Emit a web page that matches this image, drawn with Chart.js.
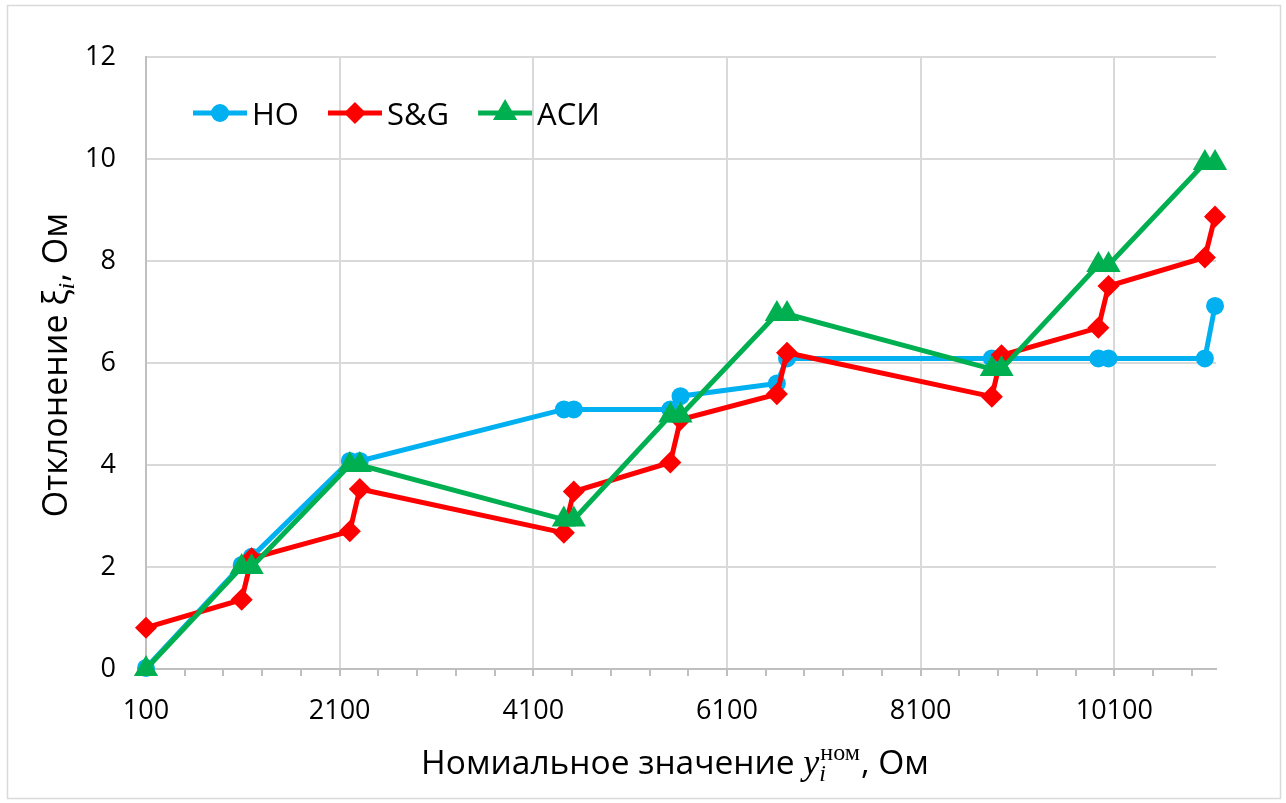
<!DOCTYPE html>
<html><head><meta charset="utf-8">
<script src="https://cdn.jsdelivr.net/npm/chart.js@4.4.0/dist/chart.umd.min.js"></script>
<style>html,body{margin:0;padding:0;background:#fff}#wrap{width:1286px;height:803px}</style>
</head><body><div id="wrap"><canvas id="c" width="1286" height="803"></canvas></div>
<script>
const xValues   = [100, 1088, 1191, 2205, 2308, 4415, 4518, 5515, 5620, 6615, 6720, 8835, 8935, 9935, 10040, 11035, 11140];
const hoValues  = [0.02, 2.04, 2.20, 4.08, 4.08, 5.09, 5.09, 5.09, 5.35, 5.60, 6.09, 6.09, 6.09, 6.09, 6.09, 6.09, 7.12];
const sgValues  = [0.81, 1.36, 2.17, 2.70, 3.53, 2.67, 3.48, 4.05, 4.89, 5.39, 6.20, 5.34, 6.15, 6.69, 7.51, 8.07, 8.87];
const asiValues = [0.00, 2.00, 2.00, 4.00, 4.00, 2.93, 2.93, 4.97, 4.97, 6.96, 6.96, 5.88, 5.88, 7.92, 7.92, 9.92, 9.92];
const seriesNames = ['НО', 'S&G', 'АСИ'];
const xMajorTicks = [100, 2100, 4100, 6100, 8100, 10100];
const xMinorStep = 400;
const yTicks = [0, 2, 4, 6, 8, 10, 12];
const xTitleParts = {pre: 'Номиальное значение ', v: 'y', sub: 'i', sup: 'ном', post: ', Ом'};
const yTitleParts = {pre: 'Отклонение ξ', sub: 'i', post: ', Ом'};

const FONT = '"Open Sans", "Noto Sans", sans-serif';
const pts = (ys) => xValues.map((x, i) => ({x: x, y: ys[i]}));

const decor = {
  id: 'decor',
  afterDraw(chart) {
    const ctx = chart.ctx;
    const ca = chart.chartArea;
    ctx.save();
    // outer frame
    ctx.strokeStyle = '#d9d9d9'; ctx.lineWidth = 1.5;
    ctx.strokeRect(7.5, 5.5, 1273, 793);
    // legend
    let x = 193; const y = 113;
    chart.data.datasets.forEach(ds => {
      ctx.strokeStyle = ds.borderColor; ctx.lineWidth = 5; ctx.lineCap = 'butt';
      ctx.beginPath(); ctx.moveTo(x, y); ctx.lineTo(x + 54, y); ctx.stroke();
      ctx.fillStyle = ds.pointBackgroundColor; ctx.strokeStyle = ds.pointBorderColor;
      Chart.helpers.drawPoint(ctx, {pointStyle: ds.pointStyle, radius: ds.pointRadius, rotation: 0, borderWidth: 1}, x + 27, y);
      ctx.font = '31px ' + FONT; ctx.fillStyle = '#000'; ctx.textBaseline = 'alphabetic'; ctx.textAlign = 'left';
      ctx.fillText(ds.label, x + 59, 125);
      x += 59 + ctx.measureText(ds.label).width + 29;
    });
    // x title
    const fMain = '33.5px ' + FONT;
    const fVar = 'italic 36px "Liberation Serif", serif';
    const fSub = 'italic 24px "Liberation Serif", serif';
    const fSup = '24px "Liberation Serif", serif';
    const wOf = (t, f) => { ctx.font = f; return ctx.measureText(t).width; };
    const p = xTitleParts;
    const wPre = wOf(p.pre, fMain), wV = wOf(p.v, fVar), wSub = wOf(p.sub, fSub), wSup = wOf(p.sup, fSup), wPost = wOf(p.post, fMain);
    const wScript = Math.max(wSub, wSup) + 2;
    const total = wPre + wV + wScript + wPost;
    let cx = (ca.left + ca.right) / 2 - 6 - total / 2;
    const by = 774;
    ctx.fillStyle = '#000'; ctx.textBaseline = 'alphabetic'; ctx.textAlign = 'left';
    ctx.font = fMain; ctx.fillText(p.pre, cx, by); cx += wPre;
    ctx.font = fVar; ctx.fillText(p.v, cx, by); cx += wV;
    ctx.font = fSub; ctx.fillText(p.sub, cx, by + 7);
    ctx.font = fSup; ctx.fillText(p.sup, cx + 1, by - 14); cx += wScript;
    ctx.font = fMain; ctx.fillText(p.post, cx, by);
    // y title
    const q = yTitleParts;
    const fMainY = '34px ' + FONT;
    const fSubY = 'italic 24px "Liberation Serif", serif';
    const wqPre = wOf(q.pre, fMainY), wqSub = wOf(q.sub, fSubY) + 1, wqPost = wOf(q.post, fMainY);
    const totY = wqPre + wqSub + wqPost;
    ctx.translate(67, (ca.top + ca.bottom) / 2 + 2);
    ctx.rotate(-Math.PI / 2);
    let tx = -totY / 2;
    ctx.font = fMainY; ctx.fillText(q.pre, tx, 0); tx += wqPre;
    ctx.font = fSubY; ctx.fillText(q.sub, tx, 7); tx += wqSub;
    ctx.font = fMainY; ctx.fillText(q.post, tx, 0);
    ctx.restore();
  }
};

new Chart(document.getElementById('c'), {
  type: 'scatter',
  data: {
    datasets: [
      {label: seriesNames[0], data: pts(hoValues), showLine: true, borderColor: '#00B0F0', backgroundColor: '#00B0F0',
       pointBackgroundColor: '#00B0F0', pointBorderColor: '#00B0F0', pointStyle: 'circle', pointRadius: 6.5,
       borderWidth: 5, order: 3, clip: false},
      {label: seriesNames[1], data: pts(sgValues), showLine: true, borderColor: '#FF0000', backgroundColor: '#FF0000',
       pointBackgroundColor: '#FF0000', pointBorderColor: '#FF0000', pointStyle: 'rectRot', pointRadius: 7.5,
       borderWidth: 5, order: 2, clip: false},
      {label: seriesNames[2], data: pts(asiValues), showLine: true, borderColor: '#00B050', backgroundColor: '#00B050',
       pointBackgroundColor: '#00B050', pointBorderColor: '#00B050', pointStyle: 'triangle', pointRadius: 9,
       borderWidth: 5, order: 1, clip: false}
    ]
  },
  options: {
    responsive: false,
    animation: false,
    devicePixelRatio: 1,
    layout: {padding: {left: 0, top: 57, right: 70, bottom: 0}},
    elements: {line: {tension: 0}, point: {borderWidth: 1, hoverRadius: 7}},
    plugins: {legend: {display: false}, tooltip: {enabled: false}},
    scales: {
      x: {
        type: 'linear', min: 100, max: 11150,
        afterBuildTicks(s) { const t = []; for (let v = 100; v <= s.max; v += xMinorStep) t.push({value: v}); s.ticks = t; },
        afterFit(s) { s.height = 803 - 669; },
        ticks: {autoSkip: false, maxRotation: 0, minRotation: 0, padding: 19, color: '#000',
                font: {family: FONT, size: 27},
                callback: (v) => xMajorTicks.includes(v) ? String(v) : ''},
        grid: {color: (c) => (c.tick && xMajorTicks.includes(c.tick.value)) ? '#d9d9d9' : 'rgba(0,0,0,0)',
               lineWidth: 2, drawTicks: true, tickLength: 7, tickColor: '#bfbfbf', tickWidth: 2},
        border: {color: '#bfbfbf', width: 2}
      },
      y: {
        type: 'linear', min: 0, max: 12,
        afterBuildTicks(s) { s.ticks = yTicks.map(v => ({value: v})); },
        afterFit(s) { s.width = 146; },
        ticks: {padding: 30, color: '#000', font: {family: FONT, size: 27}},
        grid: {color: '#d9d9d9', lineWidth: 2, drawTicks: false},
        border: {color: '#bfbfbf', width: 2}
      }
    }
  },
  plugins: [decor]
});
</script>
</body></html>
